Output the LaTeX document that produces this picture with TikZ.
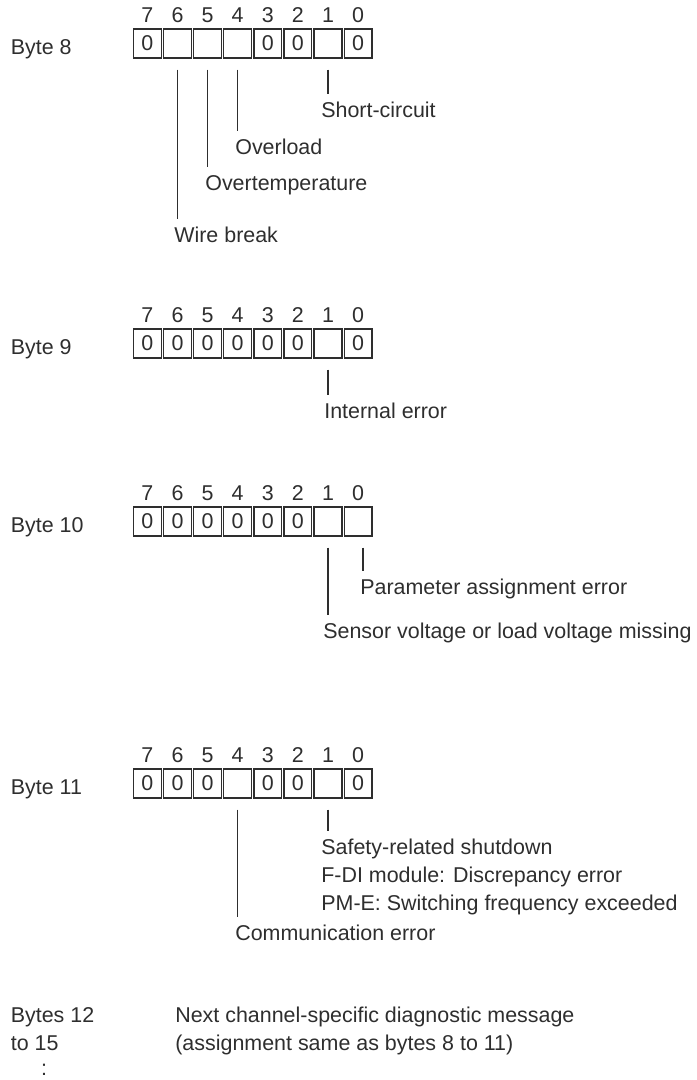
\documentclass[tikz,border=0pt]{standalone}
\usepackage{fontspec}
\setmainfont{Liberation Sans}
\usepackage{tikz}
\def\yEight{43.5}
\def\yNine{343.5}
\def\yTen{521.5}
\def\yEleven{783.5}
\definecolor{diagink}{gray}{0.18}
\newcommand{\dfont}{\fontsize{12.2pt}{15.9pt}\selectfont}
\tikzset{
  bitcell/.style={draw=diagink, line width=0.7pt, minimum width=0.556cm, minimum height=0.58cm, inner sep=0pt, text=diagink, font=\dfont},
  bitnum/.style={inner sep=0pt, text=diagink, font=\dfont},
  bytelbl/.style={anchor=base west, inner sep=0pt, text=diagink, font=\dfont},
  bitlbl/.style={anchor=north west, inner xsep=0pt, inner ysep=0.16cm, align=left, text=diagink, font=\dfont},
  bitline/.style={draw=diagink, line width=0.7pt},
}
\newcommand{\byterow}[4]{%
  \node[bytelbl] (#1lbl) at (10.5,#2+10.5) {#3};
  \foreach \v [count=\i from 0] in {#4} {%
    \pgfmathtruncatemacro{\bitno}{7-\i}
    \node[bitcell] (#1b\bitno) at (147.4+30.1*\i,#2) {\v};
    \node[bitnum] (#1n\bitno) at (147.4+30.1*\i,#2-28) {\bitno};
  }}
\newcommand{\bitnote}[5]{%
  \node[bitlbl] (#2) at (#3,#4) {#5};
  \draw[bitline] ([yshift=-0.22cm]#1) -- (#1 |- #2.north);}

\begin{document}
\begin{tikzpicture}[x=0.02cm, y=-0.02cm]
  \useasboundingbox (0,0) rectangle (697,1080);
  \byterow{r8}{\yEight}{Byte 8}{0,{},{},{},0,0,{},0}
  \bitnote{r8b1.south}{lsc}{321}{94}{Short-circuit}
  \bitnote{r8b4.south}{lol}{235}{131}{Overload}
  \bitnote{r8b5.south}{lot}{205}{167}{Overtemperature}
  \bitnote{r8b6.south}{lwb}{174}{219}{Wire break}

  \byterow{r9}{\yNine}{Byte 9}{0,0,0,0,0,0,{},0}
  \bitnote{r9b1.south}{lie}{324}{395}{Internal error}

  \byterow{r10}{\yTen}{Byte 10}{0,0,0,0,0,0,{},{}}
  \coordinate (r10t0) at ([xshift=0.1cm]r10b0.south);
  \bitnote{r10t0}{lpa}{360}{571}{Parameter assignment error}
  \bitnote{r10b1.south}{lsv}{323}{615}{Sensor voltage or load voltage missing}

  \byterow{r11}{\yEleven}{Byte 11}{0,0,0,{},0,0,{},0}
  \bitnote{r11b1.south}{lsr}{321}{831}{Safety-related shutdown\\F-DI module: Discrepancy error\\PM-E: Switching frequency exceeded}
  \bitnote{r11b4.south}{lce}{235}{917}{Communication error}

  \node[bitlbl, inner ysep=0pt] (rest) at (10.5,1007) {Bytes 12\\to 15};
  \node[bitnum, anchor=base] (restdots) at (44,1075) {:};
  \node[bitlbl, inner ysep=0pt] (restnote) at (175,1007) {Next channel-specific diagnostic message\\(assignment same as bytes 8 to 11)};
\end{tikzpicture}
\end{document}
